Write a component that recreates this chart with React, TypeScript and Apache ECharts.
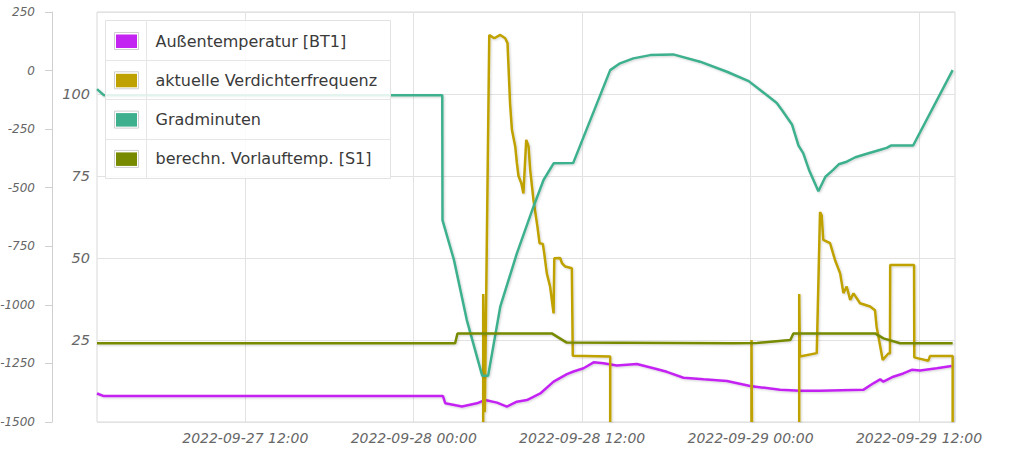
import React, { useEffect, useRef } from "react";
import * as echarts from "echarts";

type Pt = [string, number | null];

const seriesNames = [
  "Außentemperatur [BT1]",
  "aktuelle Verdichterfrequenz",
  "Gradminuten",
  "berechn. Vorlauftemp. [S1]",
];
const seriesColors = ["#c424f2", "#bfa200", "#3eb08e", "#778a00"];

const xStart = "2022-09-27 01:26";
const xEnd = "2022-09-29 14:34";
const xTicks = [
  "2022-09-27 12:00",
  "2022-09-28 00:00",
  "2022-09-28 12:00",
  "2022-09-29 00:00",
  "2022-09-29 12:00",
];

const outdoorTemp: Pt[] = [
  ["2022-09-27 01:26", 8.7], ["2022-09-27 01:55", 7.9], ["2022-09-28 02:05", 7.9],
  ["2022-09-28 02:15", 5.7], ["2022-09-28 03:26", 4.7], ["2022-09-28 04:30", 5.7],
  ["2022-09-28 05:05", 6.7], ["2022-09-28 05:56", 5.9], ["2022-09-28 06:38", 4.7],
  ["2022-09-28 07:21", 6.2], ["2022-09-28 08:04", 6.7], ["2022-09-28 09:01", 8.7],
  ["2022-09-28 09:58", 12.3], ["2022-09-28 10:55", 14.6], ["2022-09-28 11:23", 15.4],
  ["2022-09-28 12:06", 16.4], ["2022-09-28 12:49", 18.2], ["2022-09-28 13:31", 17.9],
  ["2022-09-28 14:28", 17.2], ["2022-09-28 15:54", 17.7], ["2022-09-28 17:05", 16.4],
  ["2022-09-28 18:02", 15.3], ["2022-09-28 19:13", 13.5], ["2022-09-28 20:39", 13.0],
  ["2022-09-28 22:19", 12.5], ["2022-09-28 23:58", 11.0], ["2022-09-29 02:06", 9.8],
  ["2022-09-29 03:32", 9.5], ["2022-09-29 04:57", 9.5], ["2022-09-29 08:02", 9.8],
  ["2022-09-29 08:45", 11.8], ["2022-09-29 09:14", 13.0], ["2022-09-29 09:28", 12.3],
  ["2022-09-29 10:10", 13.8], ["2022-09-29 10:53", 14.8], ["2022-09-29 11:29", 15.9],
  ["2022-09-29 12:05", 15.7], ["2022-09-29 13:16", 16.4], ["2022-09-29 14:20", 17.1],
];

const compressorFreq: Pt[] = [
  ["2022-09-28 04:57", 0], ["2022-09-28 04:57", 39], ["2022-09-28 05:04", 3],
  ["2022-09-28 05:23", 118], ["2022-09-28 05:44", 117], ["2022-09-28 06:10", 118],
  ["2022-09-28 06:31", 117], ["2022-09-28 06:41", 115.5], ["2022-09-28 06:52", 97],
  ["2022-09-28 07:00", 89], ["2022-09-28 07:14", 84], ["2022-09-28 07:21", 79],
  ["2022-09-28 07:28", 75], ["2022-09-28 07:40", 72.8], ["2022-09-28 07:49", 69.7],
  ["2022-09-28 08:01", 86], ["2022-09-28 08:11", 84], ["2022-09-28 08:18", 76.8],
  ["2022-09-28 08:32", 67.7], ["2022-09-28 08:49", 59.5], ["2022-09-28 08:58", 54.5],
  ["2022-09-28 09:12", 54.3], ["2022-09-28 09:18", 51.4], ["2022-09-28 09:29", 45.3],
  ["2022-09-28 09:43", 41.3], ["2022-09-28 09:58", 33.1], ["2022-09-28 10:01", 49.9],
  ["2022-09-28 10:26", 50], ["2022-09-28 10:34", 48.4], ["2022-09-28 10:48", 47.4],
  ["2022-09-28 11:16", 46.9], ["2022-09-28 11:20", 20.2], ["2022-09-28 14:00", 20],
  ["2022-09-28 14:00", 0], ["2022-09-28 14:01", null],
  ["2022-09-29 00:04", 0], ["2022-09-29 00:04", 25], ["2022-09-29 00:06", 0],
  ["2022-09-29 00:07", null],
  ["2022-09-29 03:28", 0], ["2022-09-29 03:28", 39], ["2022-09-29 03:31", 20],
  ["2022-09-29 04:43", 21], ["2022-09-29 04:57", 64], ["2022-09-29 05:04", 63],
  ["2022-09-29 05:11", 55.5], ["2022-09-29 05:40", 54.5], ["2022-09-29 06:01", 49.4],
  ["2022-09-29 06:23", 45.3], ["2022-09-29 06:37", 39.3], ["2022-09-29 06:51", 41.3],
  ["2022-09-29 07:06", 37.2], ["2022-09-29 07:20", 39.2], ["2022-09-29 07:48", 36.2],
  ["2022-09-29 08:31", 35.2], ["2022-09-29 08:52", 34.1], ["2022-09-29 08:59", 29],
  ["2022-09-29 09:25", 18.9], ["2022-09-29 09:49", 20.9], ["2022-09-29 09:56", 20.9],
  ["2022-09-29 09:57", 47.9], ["2022-09-29 11:39", 47.9], ["2022-09-29 11:40", 19.7],
  ["2022-09-29 11:57", 19.4], ["2022-09-29 12:40", 18.7], ["2022-09-29 12:47", 20.1],
  ["2022-09-29 14:24", 20.1], ["2022-09-29 14:24", 0],
];

const degreeMinutes: Pt[] = [
  ["2022-09-27 01:26", -79], ["2022-09-27 01:55", -105], ["2022-09-28 02:02", -105],
  ["2022-09-28 02:03", -638], ["2022-09-28 02:52", -808], ["2022-09-28 03:47", -1065],
  ["2022-09-28 04:53", -1303], ["2022-09-28 05:18", -1303], ["2022-09-28 06:10", -1008],
  ["2022-09-28 07:21", -780], ["2022-09-28 08:32", -581], ["2022-09-28 09:15", -467],
  ["2022-09-28 09:58", -396], ["2022-09-28 11:22", -394], ["2022-09-28 14:00", 2],
  ["2022-09-28 14:42", 31], ["2022-09-28 15:39", 52], ["2022-09-28 16:51", 66],
  ["2022-09-28 18:29", 69], ["2022-09-28 20:24", 38], ["2022-09-28 22:19", -5],
  ["2022-09-28 23:52", -45], ["2022-09-29 00:41", -83], ["2022-09-29 01:17", -111],
  ["2022-09-29 01:52", -138], ["2022-09-29 02:14", -168], ["2022-09-29 02:57", -230],
  ["2022-09-29 03:25", -320], ["2022-09-29 03:45", -352], ["2022-09-29 04:10", -424],
  ["2022-09-29 04:50", -515], ["2022-09-29 05:20", -453], ["2022-09-29 05:53", -424],
  ["2022-09-29 06:17", -400], ["2022-09-29 06:51", -389], ["2022-09-29 07:28", -370],
  ["2022-09-29 08:17", -355], ["2022-09-29 09:08", -340], ["2022-09-29 09:42", -330],
  ["2022-09-29 10:00", -320], ["2022-09-29 11:35", -320], ["2022-09-29 14:24", 2],
];

const flowTemp: Pt[] = [
  ["2022-09-27 01:26", 24], ["2022-09-28 02:57", 24], ["2022-09-28 03:07", 27],
  ["2022-09-28 09:50", 27], ["2022-09-28 10:54", 24.2], ["2022-09-28 22:45", 24],
  ["2022-09-29 00:27", 24.1], ["2022-09-29 02:50", 25], ["2022-09-29 03:03", 27],
  ["2022-09-29 08:52", 27], ["2022-09-29 09:28", 25.5], ["2022-09-29 10:39", 24],
  ["2022-09-29 14:24", 24],
];

const toMs = (s: string) => new Date(s.replace(" ", "T") + ":00").getTime();
const pad = (n: number) => String(n).padStart(2, "0");
const fmt = (v: number) => {
  const d = new Date(v);
  return `${d.getFullYear()}-${pad(d.getMonth() + 1)}-${pad(d.getDate())} ${pad(d.getHours())}:${pad(d.getMinutes())}`;
};
const conv = (arr: Pt[]) => arr.map(([t, v]) => [toMs(t), v === null ? "-" : v]);

const FONT = "DejaVu Sans";

export default function App() {
  const ref = useRef<HTMLDivElement>(null);
  useEffect(() => {
    if (!ref.current) return;
    const chart = echarts.init(ref.current, undefined, { renderer: "svg" });
    const datasets = [outdoorTemp, compressorFreq, degreeMinutes, flowTemp];
    const axisIdx = [0, 0, 1, 0];
    const shadow = { shadowColor: "rgba(0,0,0,0.18)", shadowBlur: 2, shadowOffsetX: 1, shadowOffsetY: 1 };

    const rowY = [41, 80.3, 119.6, 158.9];
    const legendEls: any[] = [
      {
        type: "rect",
        z: 100,
        shape: { x: 105.5, y: 20.5, width: 285, height: 158 },
        style: { fill: "rgba(255,255,255,0.86)", stroke: "#e2e2e2", lineWidth: 1 },
      },
      ...[60.5, 99.5, 139.5].map((y) => ({
        type: "line",
        z: 101,
        shape: { x1: 105.5, y1: y, x2: 390.5, y2: y },
        style: { stroke: "#e6e6e6", lineWidth: 1 },
      })),
      {
        type: "line",
        z: 101,
        shape: { x1: 146.5, y1: 20.5, x2: 146.5, y2: 178.5 },
        style: { stroke: "#e6e6e6", lineWidth: 1 },
      },
    ];
    seriesNames.forEach((name, i) => {
      legendEls.push({
        type: "rect",
        z: 102,
        shape: { x: 114.5, y: rowY[i] - 8.5, width: 24, height: 17 },
        style: { fill: "#fff", stroke: "#cfcfcf", lineWidth: 1 },
      });
      legendEls.push({
        type: "rect",
        z: 103,
        shape: { x: 116, y: rowY[i] - 6.5, width: 21, height: 13.5 },
        style: { fill: seriesColors[i] },
      });
      legendEls.push({
        type: "text",
        z: 103,
        x: 155.5,
        y: rowY[i],
        style: {
          text: name,
          fill: "#3a3a3a",
          font: `16px "${FONT}"`,
          verticalAlign: "middle",
          align: "left",
        },
      });
    });

    chart.setOption({
      animation: false,
      grid: {
        left: 97,
        right: 65,
        top: 12,
        bottom: 28,
        show: true,
        borderColor: "#d9d9d9",
        borderWidth: 1,
        backgroundColor: "transparent",
        containLabel: false,
        outerBoundsMode: "none",
      },
      xAxis: {
        type: "value",
        min: toMs(xStart),
        max: toMs(xEnd),
        axisLine: { show: false },
        axisTick: { show: false, customValues: xTicks.map(toMs) },
        axisLabel: {
          customValues: xTicks.map(toMs),
          formatter: (v: number) => fmt(v),
          fontFamily: FONT,
          fontStyle: "italic",
          fontSize: 14,
          color: "#666",
          margin: 9,
        },
        splitLine: { show: true, lineStyle: { color: "#e2e2e2", width: 1 } },
      },
      yAxis: [
        {
          type: "value",
          position: "left",
          min: 0,
          max: 125,
          interval: 25,
          axisLine: { show: false },
          axisTick: { show: false },
          axisLabel: {
            showMinLabel: false,
            showMaxLabel: false,
            fontFamily: FONT,
            fontStyle: "italic",
            fontSize: 14.5,
            color: "#666",
            margin: 7,
            formatter: (v: number) => String(v),
          },
          splitLine: { show: true, lineStyle: { color: "#e2e2e2", width: 1 } },
        },
        {
          type: "value",
          position: "left",
          offset: 45,
          min: -1500,
          max: 250,
          interval: 250,
          axisLine: { show: true, lineStyle: { color: "#d0d0d0", width: 1 } },
          axisTick: { show: true, length: 7, lineStyle: { color: "#d0d0d0" } },
          axisLabel: {
            fontFamily: FONT,
            fontStyle: "italic",
            fontSize: 12,
            color: "#666",
            margin: 17,
            formatter: (v: number) => String(v),
          },
          splitLine: { show: false },
        },
      ],
      series: datasets.map((d, i) => ({
        name: seriesNames[i],
        type: "line",
        yAxisIndex: axisIdx[i],
        data: conv(d),
        showSymbol: false,
        connectNulls: false,
        color: seriesColors[i],
        lineStyle: { color: seriesColors[i], width: 2.5, ...shadow },
        z: 2,
      })),
      graphic: { elements: legendEls },
    });
    return () => chart.dispose();
  }, []);
  return (
    <div
      ref={ref}
      style={{ position: "absolute", left: 0, top: 0, width: 1020, height: 450 }}
    />
  );
}
